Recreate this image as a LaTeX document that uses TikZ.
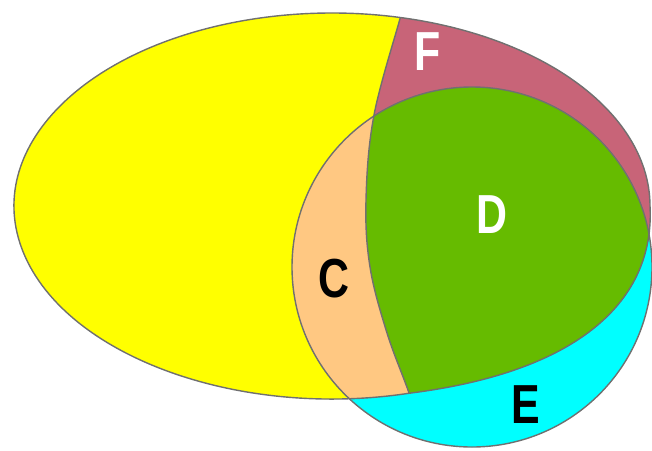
\documentclass[tikz,border=0pt]{standalone}
\usepackage{fontspec}
\usetikzlibrary{calc}
\newfontfamily\labfont{Liberation Sans}
\definecolor{cyel}{HTML}{FFFF00}
\definecolor{cpink}{HTML}{C86478}
\definecolor{cgreen}{HTML}{66BB00}
\definecolor{corange}{HTML}{FFC882}
\definecolor{ccyan}{HTML}{00FFFF}
\definecolor{cline}{HTML}{707070}
\begin{document}
\begin{tikzpicture}[x=1pt,y=-1pt,
  outline/.style={draw=cline,line width=1.4pt},
  lab/.style={font=\labfont\bfseries\fontsize{55}{55}\selectfont,xscale=0.78,inner sep=0pt}]
\useasboundingbox (0,0) rectangle (652,450);
\coordinate (oc) at (332,206);
\coordinate (ob) at ($(oc)+(76:318 and 193)$);
\def\outerpath{(ob) arc[start angle=76, end angle=360, x radius=318, y radius=193] .. controls (655,300) and (580,372) .. (ob) -- cycle}
\def\divpath{plot[smooth,tension=0.6] coordinates {(404,0) (401,15) (374,115) (366,200) (370,267) (387,333) (409,393) (416,420)}}
\def\rightregion{\divpath -- (416,470) -- (700,470) -- (700,-20) -- (404,-20) -- cycle}
\coordinate (kc) at (472,267);
% yellow outer
\fill[cyel] \outerpath;
% pink part
\begin{scope}
  \clip \outerpath;
  \fill[cpink] \rightregion;
\end{scope}
% cyan circle
\fill[ccyan] (kc) circle (180);
\begin{scope}
  \clip (kc) circle (180);
  \fill[corange] \outerpath;
  \clip \outerpath;
  \fill[cgreen] \rightregion;
\end{scope}
% outlines
\draw[outline] \outerpath;
\draw[outline] (kc) circle (180);
\begin{scope}
  \clip \outerpath;
  \draw[outline] \divpath;
\end{scope}
\node[lab,text=white] (F) at (428,52) {F};
\node[lab,text=white] (D) at (492,215) {D};
\node[lab,text=black] (C) at (334,279) {C};
\node[lab,text=black] (E) at (526,405) {E};
\end{tikzpicture}
\end{document}
